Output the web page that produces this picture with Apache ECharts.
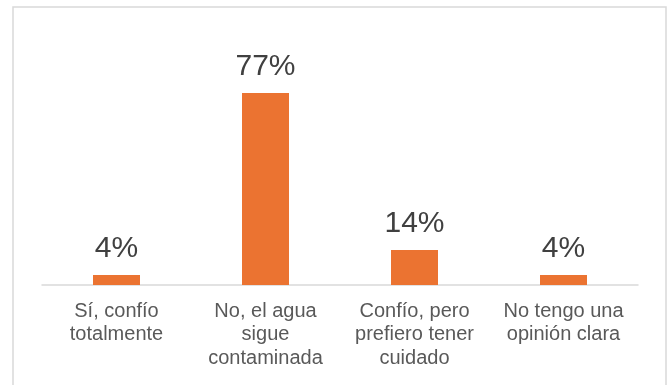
<!DOCTYPE html>
<html>
<head>
<meta charset="utf-8">
<script src="https://cdn.jsdelivr.net/npm/echarts@6/dist/echarts.min.js"></script>
<style>
  html, body { margin: 0; padding: 0; background: #fff; }
  #chart { width: 671px; height: 385px; }
</style>
</head>
<body>
<div id="chart"></div>
<script>
// Survey answers: trust in the water supply
const categories = [
  'Sí, confío\ntotalmente',
  'No, el agua\nsigue\ncontaminada',
  'Confío, pero\nprefiero tener\ncuidado',
  'No tengo una\nopinión clara'
];
const percentages = [4, 77, 14, 4];

const FONT = '"Liberation Sans", Arial, sans-serif';

const chart = echarts.init(document.getElementById('chart'), null, { renderer: 'canvas' });

chart.setOption({
  animation: false,
  backgroundColor: '#ffffff',
  graphic: [{
    type: 'rect',
    shape: { x: 13, y: 7, width: 653, height: 400 },
    style: { fill: 'none', stroke: '#d9d9d9', lineWidth: 1.5 },
    silent: true
  }],
  grid: { left: 42, right: 33, top: 35.6, bottom: 100, containLabel: false },
  xAxis: {
    type: 'category',
    data: categories,
    axisLine: { show: true, lineStyle: { color: '#d9d9d9', width: 1.5 } },
    axisTick: { show: false },
    axisLabel: {
      interval: 0,
      margin: 15,
      fontFamily: FONT,
      fontSize: 20,
      lineHeight: 23.3,
      color: '#595959',
      align: 'center',
      verticalAlign: 'top'
    }
  },
  yAxis: {
    type: 'value',
    min: 0,
    max: 100,
    show: false,
    splitLine: { show: false }
  },
  series: [{
    type: 'bar',
    data: percentages,
    barWidth: 47,
    itemStyle: { color: '#eb7331' },
    label: {
      show: true,
      position: 'top',
      distance: 11,
      formatter: p => p.value + '%',
      fontFamily: FONT,
      fontSize: 30,
      color: '#404040'
    }
  }]
});
</script>
</body>
</html>
